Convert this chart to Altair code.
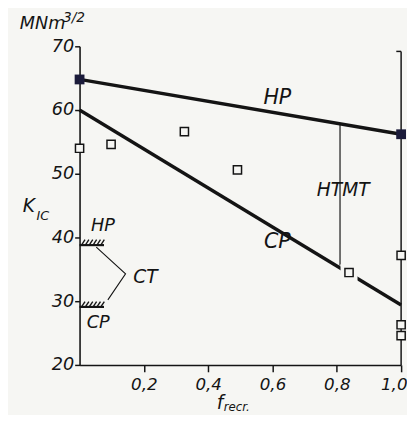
import altair as alt
import pandas as pd

# ---- data ----
x_ticks = [0.2, 0.4, 0.6, 0.8, 1.0]
y_ticks = [20, 30, 40, 50, 60, 70]

hp_x = [0.0, 1.0]
hp_y = [64.8, 56.2]
cp_x = [0.0, 1.0]
cp_y = [60.0, 29.4]
open_x = [0.0, 0.098, 0.326, 0.491, 0.838, 1.0, 1.0, 1.0]
open_y = [54.0, 54.6, 56.6, 50.6, 34.5, 37.2, 26.3, 24.6]
gap_x = [0.838]
gap_y = [34.5]
htmt_x = [0.81]
htmt_top = [57.8]
htmt_bot = [35.6]
frame_x = [1.0]
frame_top = [69.2]
hatch_levels = [38.8, 29.1]
hatch_len = [0.076]
hatch_offsets = [0.006, 0.018, 0.030, 0.042, 0.054, 0.066]
ct_x = [0.052, 0.143, 0.088]
ct_y = [38.5, 34.3, 30.2]

lab_text = ["HP", "CP", "HTMT", "HP", "CP", "CT"]
lab_x = [0.615, 0.615, 0.82, 0.073, 0.058, 0.205]
lab_y = [61.8, 39.2, 47.5, 41.8, 26.6, 33.8]
lab_size = [21, 21, 19, 18, 18, 19]

INK = "#141414"
BG = "#f6f6f3"
FONT = "DejaVu Sans"

xscale = alt.Scale(domain=[0, 1], nice=False, zero=False)
yscale = alt.Scale(domain=[20, 70], nice=False, zero=False)
xaxis = alt.Axis(values=x_ticks, title=None, grid=False, tickSize=7, tickWidth=1.5,
                 domainWidth=1.6, domainColor=INK, tickColor=INK, labelColor=INK,
                 labelFont=FONT, labelFontStyle="italic", labelFontSize=17,
                 labelPadding=5, labelFlush=True, labelFlushOffset=6, labelOverlap=False,
                 labelExpr="replace(format(datum.value, '.1f'), '.', ',')")
yaxis = alt.Axis(values=y_ticks, title=None, grid=False, tickSize=5, tickWidth=1.5,
                 domainWidth=1.6, domainColor=INK, tickColor=INK, labelColor=INK,
                 labelFont=FONT, labelFontStyle="italic", labelFontSize=18,
                 labelPadding=1, labelFlush=False, labelOverlap=False)

X = lambda f="x": alt.X(f"{f}:Q", scale=xscale, axis=xaxis)
Y = lambda f="y": alt.Y(f"{f}:Q", scale=yscale, axis=yaxis)

hp = pd.DataFrame({"x": hp_x, "y": hp_y})
cp = pd.DataFrame({"x": cp_x, "y": cp_y})
opn = pd.DataFrame({"x": open_x, "y": open_y})
gap = pd.DataFrame({"x": gap_x, "y": gap_y})

hp_line = alt.Chart(hp).mark_line(color=INK, strokeWidth=3.4).encode(x=X(), y=Y())
cp_line = alt.Chart(cp).mark_line(color=INK, strokeWidth=3.4).encode(x=X(), y=Y())

htmt = alt.Chart(pd.DataFrame({"x": htmt_x, "y": htmt_top, "y2": htmt_bot})).mark_rule(
    color=INK, strokeWidth=1.2).encode(x=X(), y=Y(), y2="y2:Q")

frame = alt.Chart(pd.DataFrame({"x": frame_x, "y": frame_top, "y2": [20]})).mark_rule(
    color=INK, strokeWidth=1.5).encode(x=X(), y=Y(), y2="y2:Q")
frame_tick = alt.Chart(pd.DataFrame({"x": [0.985], "x2": frame_x, "y": frame_top})).mark_rule(
    color=INK, strokeWidth=1.5).encode(x=X(), x2="x2:Q", y=Y())

hatch_base = alt.Chart(pd.DataFrame({"x": [0.0, 0.0], "x2": hatch_len * 2, "y": hatch_levels})).mark_rule(
    color=INK, strokeWidth=2.2).encode(x=X(), x2="x2:Q", y=Y())
hrows = []
for lv in hatch_levels:
    for off in hatch_offsets:
        hrows.append({"x": off, "x2": off + 0.011, "y": lv, "y2": lv + 0.85})
hatch = alt.Chart(pd.DataFrame(hrows)).mark_rule(color=INK, strokeWidth=1.4).encode(
    x=X(), x2="x2:Q", y=Y(), y2="y2:Q")

ct = alt.Chart(pd.DataFrame({"x": ct_x, "y": ct_y, "o": [0, 1, 2]})).mark_line(
    color=INK, strokeWidth=1.1).encode(x=X(), y=Y(), order="o:Q")

gap_pts = alt.Chart(gap).mark_point(shape="square", filled=True, color=BG, size=300,
                                    opacity=1).encode(x=X(), y=Y())
open_pts = alt.Chart(opn).mark_point(shape="square", filled=True, fill=BG, stroke=INK,
                                     strokeWidth=1.5, size=70, opacity=1).encode(x=X(), y=Y())
filled_pts = alt.Chart(hp).mark_point(shape="square", filled=True, color="#1b1b3a", size=100,
                                      opacity=1).encode(x=X(), y=Y())

labels = alt.Chart(pd.DataFrame({"x": lab_x, "y": lab_y, "t": lab_text, "s": lab_size})).mark_text(
    font=FONT, fontStyle="italic", color=INK, align="center", baseline="middle").encode(
    x=X(), y=Y(), text="t:N", size=alt.Size("s:Q", scale=None, legend=None))


def ptext(txt, px, py, size):
    return alt.Chart(pd.DataFrame({"t": [txt]})).mark_text(
        font=FONT, fontStyle="italic", color=INK, align="left", baseline="alphabetic",
        fontSize=size).encode(x=alt.value(px), y=alt.value(py), text="t:N")


titles = [
    ptext("MNm", -61, -18, 18),
    ptext("3/2", -17, -25, 14),
    ptext("K", -58, 169, 19),
    ptext("IC", -44, 177, 13),
    ptext("f", 140, 370, 19),
    ptext("recr.", 147, 372, 12),
]

chart = alt.layer(
    hp_line, cp_line, htmt, frame, frame_tick, hatch_base, hatch, ct,
    gap_pts, open_pts, filled_pts, labels, *titles
).properties(
    width=328, height=325,
    autosize=alt.AutoSizeParams(type="none"),
    padding={"left": 73, "top": 35, "right": 6, "bottom": 47},
    background=BG,
).configure_view(stroke=None)

chart.save("out.html", embed_options={"renderer": "svg", "actions": False})
